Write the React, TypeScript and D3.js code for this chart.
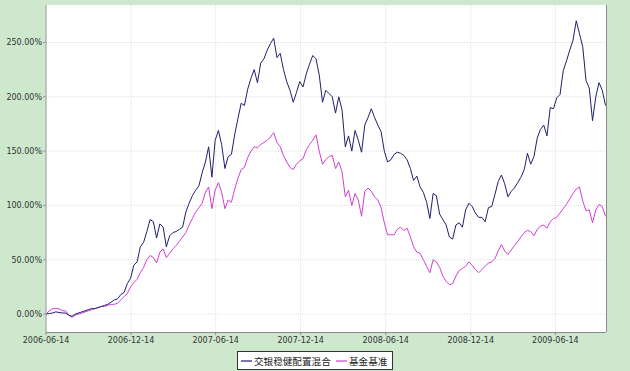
import React from 'react';
import * as d3 from 'd3';

// weekly sample dates
const dates = [
  '2006-06-14', '2006-06-21', '2006-06-28', '2006-07-05', '2006-07-12', '2006-07-19', '2006-07-26', '2006-08-02',
  '2006-08-09', '2006-08-16', '2006-08-23', '2006-08-30', '2006-09-06', '2006-09-13', '2006-09-20', '2006-09-27',
  '2006-10-04', '2006-10-11', '2006-10-18', '2006-10-25', '2006-11-01', '2006-11-08', '2006-11-15', '2006-11-22',
  '2006-11-29', '2006-12-06', '2006-12-13', '2006-12-20', '2006-12-27',
  '2007-01-03', '2007-01-10', '2007-01-17', '2007-01-24', '2007-01-31', '2007-02-07', '2007-02-14', '2007-02-21',
  '2007-02-28', '2007-03-07', '2007-03-14', '2007-03-21', '2007-03-28', '2007-04-04', '2007-04-11', '2007-04-18',
  '2007-04-25', '2007-05-02', '2007-05-09', '2007-05-16', '2007-05-23', '2007-05-30', '2007-06-06', '2007-06-13',
  '2007-06-20', '2007-06-27', '2007-07-04', '2007-07-11', '2007-07-18', '2007-07-25', '2007-08-01', '2007-08-08',
  '2007-08-15', '2007-08-22', '2007-08-29', '2007-09-05', '2007-09-12', '2007-09-19', '2007-09-26', '2007-10-03',
  '2007-10-10', '2007-10-17', '2007-10-24', '2007-10-31', '2007-11-07', '2007-11-14', '2007-11-21', '2007-11-28',
  '2007-12-05', '2007-12-12', '2007-12-19', '2007-12-26',
  '2008-01-02', '2008-01-09', '2008-01-16', '2008-01-23', '2008-01-30', '2008-02-06', '2008-02-13', '2008-02-20',
  '2008-02-27', '2008-03-05', '2008-03-12', '2008-03-19', '2008-03-26', '2008-04-02', '2008-04-09', '2008-04-16',
  '2008-04-23', '2008-04-30', '2008-05-07', '2008-05-14', '2008-05-21', '2008-05-28', '2008-06-04', '2008-06-11',
  '2008-06-18', '2008-06-25', '2008-07-02', '2008-07-09', '2008-07-16', '2008-07-23', '2008-07-30', '2008-08-06',
  '2008-08-13', '2008-08-20', '2008-08-27', '2008-09-03', '2008-09-10', '2008-09-17', '2008-09-24', '2008-10-01',
  '2008-10-08', '2008-10-15', '2008-10-22', '2008-10-29', '2008-11-05', '2008-11-12', '2008-11-19', '2008-11-26',
  '2008-12-03', '2008-12-10', '2008-12-17', '2008-12-24', '2008-12-31',
  '2009-01-07', '2009-01-14', '2009-01-21', '2009-01-28', '2009-02-04', '2009-02-11', '2009-02-18', '2009-02-25',
  '2009-03-04', '2009-03-11', '2009-03-18', '2009-03-25', '2009-04-01', '2009-04-08', '2009-04-15', '2009-04-22',
  '2009-04-29', '2009-05-06', '2009-05-13', '2009-05-20', '2009-05-27', '2009-06-03', '2009-06-10', '2009-06-17',
  '2009-06-24', '2009-07-01', '2009-07-08', '2009-07-15', '2009-07-22', '2009-07-29', '2009-08-05', '2009-08-12',
  '2009-08-19', '2009-08-26', '2009-09-02', '2009-09-09', '2009-09-16', '2009-09-23', '2009-09-30',
];

// cumulative return, %
const fundValues = [
  0, 0.5, 1, 2, 1.5, 1, 1, -1, -2, 0, 1, 2, 3, 4, 5, 5,
  6, 7, 8, 9, 11, 13, 14, 18, 20, 28, 33, 45, 48,
  62, 66, 76, 87, 85, 70, 83, 80, 62, 72, 75, 76, 78, 80, 94, 102,
  109, 114, 118, 130, 140, 154, 126, 160, 169, 156, 134, 145, 147, 165, 180, 194,
  192, 207, 217, 225, 213, 231, 235, 243, 249, 254, 236, 240, 225, 214, 206, 195,
  204, 214, 209, 221,
  230, 238, 235, 220, 195, 206, 203, 200, 185, 200, 188, 154, 164, 150, 169, 160,
  149, 174, 181, 189, 181, 174, 168, 150, 140, 142, 147, 149, 148, 146, 142, 134,
  123, 127, 117, 112, 103, 88, 111, 109, 92, 87, 82, 71, 69, 82, 84, 80,
  96, 102, 99, 93, 89,
  89, 85, 98, 99, 110, 122, 128, 120, 108, 113, 116, 121, 126, 133, 148, 138,
  145, 162, 170, 174, 164, 190, 189, 199, 202, 224, 233, 243, 252, 270, 258, 246,
  215, 208, 178, 200, 213, 206, 192,
];

const benchValues = [
  0, 3, 5, 5, 5, 3, 3, -1, -3, -1, 0, 1, 2, 3, 4, 5,
  6, 7, 7, 8, 9, 9, 10, 13, 16, 19, 25, 29, 32,
  38, 43, 50, 54, 52, 47, 57, 60, 52, 56, 60, 63, 67, 71, 75, 82,
  88, 94, 98, 102, 112, 117, 97, 114, 121, 112, 97, 105, 103, 115, 125, 133,
  135, 144, 150, 154, 153, 156, 158, 160, 163, 167, 158, 154, 146, 140, 135, 133,
  138, 141, 143, 151,
  156, 160, 165, 150, 138, 142, 145, 146, 134, 140, 131, 108, 114, 100, 111, 105,
  90, 113, 116, 113, 108, 105, 98, 84, 73, 73, 73, 78, 80, 77, 79, 71,
  62, 57, 56, 50, 44, 38, 50, 48, 43, 35, 30, 27, 28, 35, 40, 42,
  44, 48, 45, 41, 38,
  41, 44, 47, 48, 51, 58, 64, 58, 55, 59, 63, 67, 71, 75, 77, 76,
  72, 78, 81, 82, 79, 85, 88, 89, 93, 97, 101, 106, 111, 115, 117, 104,
  95, 96, 84, 96, 101, 99, 90,
];

const seriesNames = ['交银稳健配置混合', '基金基准'];
const seriesColors = ['#1f1f6e', '#d23fd2'];
const yTicks = [0, 50, 100, 150, 200, 250];
const xTickLabels = ['2006-06-14', '2006-12-14', '2007-06-14', '2007-12-14', '2008-06-14', '2008-12-14', '2009-06-14'];

const W = 630;
const H = 371;
const margin = { left: 46, right: 24, top: 5, bottom: 39 };
const font = 'DejaVu Sans, Verdana, sans-serif';

const App = () => {
  const parse = d3.timeParse('%Y-%m-%d');
  const xDates = dates.map((d) => parse(d) as Date);

  const x = d3
    .scaleTime()
    .domain([parse('2006-06-14') as Date, parse('2009-10-01') as Date])
    .range([margin.left, W - margin.right]);

  const y = d3
    .scaleLinear()
    .domain([-16.5, 284.5])
    .range([H - margin.bottom, margin.top]);

  const line = d3
    .line<number>()
    .x((_, i) => x(xDates[i]))
    .y((d) => y(d));

  const x0 = margin.left;
  const x1 = W - margin.right;
  const y0 = H - margin.bottom;
  const y1 = margin.top;

  return (
    <svg width={W} height={H} style={{ position: 'absolute', left: 0, top: 0 }}>
      <rect x={0} y={0} width={W} height={H} fill="#cde8cd" />
      <rect x={x0} y={y1} width={x1 - x0} height={y0 - y1} fill="#fff" />

      {/* grid */}
      {yTicks.map((t) => (
        <line key={'gy' + t} x1={x0} x2={x1} y1={y(t)} y2={y(t)} stroke="#e0e0e0" strokeDasharray="1,1" />
      ))}
      {xTickLabels.map((t) => (
        <line key={'gx' + t} x1={x(parse(t) as Date)} x2={x(parse(t) as Date)} y1={y1} y2={y0} stroke="#e0e0e0" strokeDasharray="1,1" />
      ))}

      {/* series */}
      <path d={line(benchValues) || ''} fill="none" stroke={seriesColors[1]} strokeWidth={1} />
      <path d={line(fundValues) || ''} fill="none" stroke={seriesColors[0]} strokeWidth={1} />

      {/* frame */}
      <line x1={x0} x2={x0} y1={y1} y2={y0} stroke="#9a9a9a" />
      <line x1={x0} x2={x1} y1={y0 + 0.5} y2={y0 + 0.5} stroke="#8a8a8a" />
      <line x1={x1 + 0.5} x2={x1 + 0.5} y1={y1} y2={y0} stroke="#8a8a8a" />

      {/* y axis */}
      {yTicks.map((t) => (
        <g key={'ty' + t}>
          <line x1={x0 - 3} x2={x0} y1={y(t)} y2={y(t)} stroke="#9a9a9a" />
          <text x={x0 - 4} y={y(t) + 3} textAnchor="end" fontSize={8} fontFamily={font} fill="#333">
            {d3.format('.2f')(t) + '%'}
          </text>
        </g>
      ))}

      {/* x axis */}
      {xTickLabels.map((t) => {
        const px = x(parse(t) as Date);
        return (
          <g key={'tx' + t}>
            <line x1={px} x2={px} y1={y0} y2={y0 + 3} stroke="#8a8a8a" />
            <text x={px} y={y0 + 11} textAnchor="middle" fontSize={8} fontFamily={font} fill="#333">
              {t}
            </text>
          </g>
        );
      })}

      {/* legend */}
      <g>
        <rect x={237.5} y={351.5} width={155} height={18} fill="#fff" stroke="#333" />
        <line x1={241} x2={252} y1={361} y2={361} stroke={seriesColors[0]} strokeWidth={1.2} />
        <text x={254} y={364.5} fontSize={9.6} fontFamily="Noto Sans CJK SC, sans-serif" fill="#222">
          {seriesNames[0]}
        </text>
        <line x1={336} x2={347} y1={361} y2={361} stroke={seriesColors[1]} strokeWidth={1.2} />
        <text x={349} y={364.5} fontSize={9.6} fontFamily="Noto Sans CJK SC, sans-serif" fill="#222">
          {seriesNames[1]}
        </text>
      </g>
    </svg>
  );
};

export default App;
